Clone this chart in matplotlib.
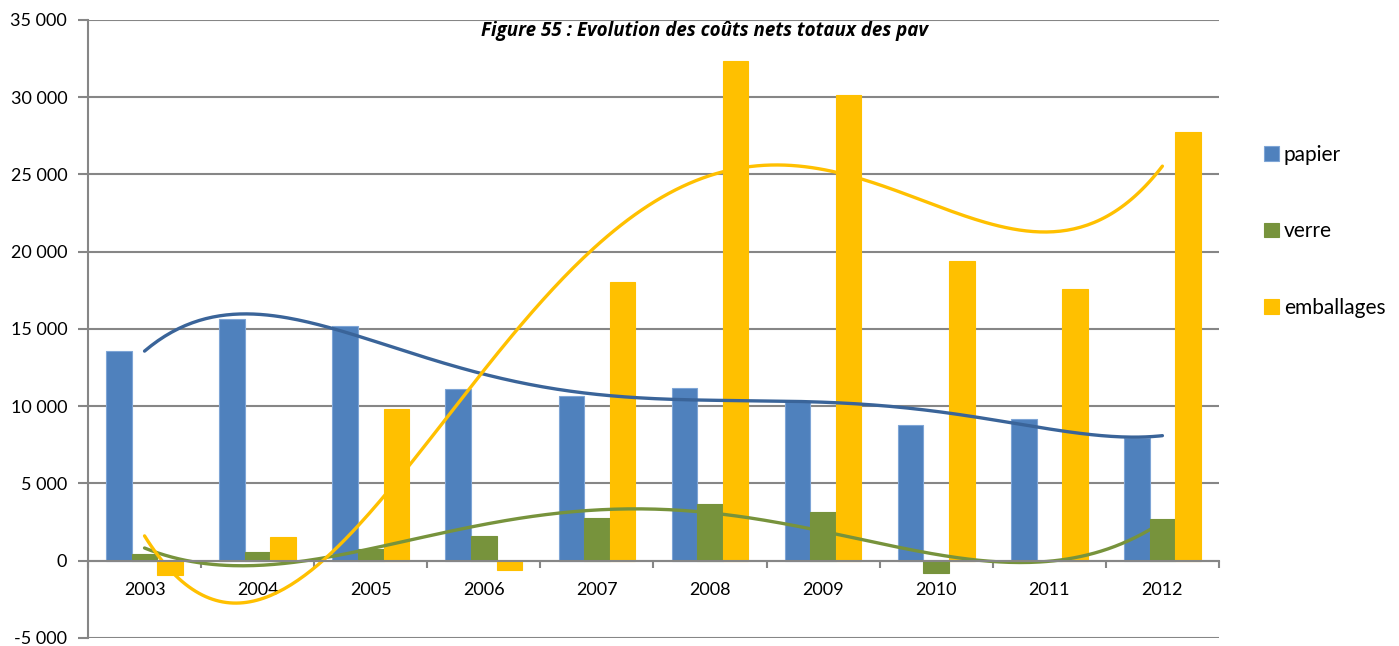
import matplotlib
matplotlib.use("Agg")
import matplotlib.pyplot as plt
import numpy as np
from matplotlib.ticker import FuncFormatter, FixedLocator

years = ['2003', '2004', '2005', '2006', '2007', '2008', '2009', '2010', '2011', '2012']
papier = [13600, 15650, 15170, 11120, 10670, 11190, 10260, 8810, 9160, 7950]
verre = [450, 580, 730, 1620, 2740, 3690, 3170, -820, 0, 2670]
emballages = [-930, 1530, 9850, -630, 18030, 32340, 30140, 19370, 17580, 27750]

title = 'Figure 55 : Evolution des coûts nets totaux des pav'

plt.rcParams['font.family'] = ['Lato', 'DejaVu Sans']

grey = '#868686'
# name, values, bar colour, bar edge, trend colour, trend order
series = [
    ('papier', papier, '#4F81BD', '#7EA5D6', '#3A6499', 5),
    ('verre', verre, '#77933C', '#77933C', '#77933C', 4),
    ('emballages', emballages, '#FFC000', '#FFC000', '#FFC000', 4),
]

fig = plt.figure(figsize=(13.99, 6.46), dpi=100)
ax = fig.add_axes([0.0629, 0.0124, 0.8084, 0.9567])

x = np.arange(1, len(years) + 1)
bw = 0.226
handles = []
for i, (name, vals, col, ecol, tcol, order) in enumerate(series):
    b = ax.bar(x + (i - 1) * bw, vals, width=bw, color=col, edgecolor=ecol,
               linewidth=0.8, label=name, zorder=3)
    handles.append(b)

# polynomial trendlines (like the spreadsheet ones)
xs = np.linspace(1, len(years), 300)
for name, vals, col, ecol, tcol, order in series:
    coef = np.polyfit(x, vals, order)
    ax.plot(xs, np.polyval(coef, xs), color=tcol, lw=2.4, zorder=4,
            solid_capstyle='round')

ax.set_xlim(0.5, len(years) + 0.5)
ax.set_ylim(-5000, 35000)
ax.set_yticks(np.arange(-5000, 35001, 5000))
ax.yaxis.set_major_formatter(FuncFormatter(lambda v, p: f'{int(v):,}'.replace(',', ' ')))
ax.yaxis.grid(True, color=grey, lw=1.5, zorder=0)

ax.set_xticks(x)
ax.set_xticklabels(years)
ax.xaxis.set_minor_locator(FixedLocator(np.arange(0.5, len(years) + 1, 1)))
ax.tick_params(axis='x', which='major', length=0, pad=15, labelsize=13)
ax.tick_params(axis='x', which='minor', length=5, width=1.5, color=grey, direction='out')
ax.tick_params(axis='y', length=7, width=1.5, color=grey, pad=8, labelsize=13)

ax.spines['bottom'].set_position(('data', 0))
ax.spines['bottom'].set_color(grey)
ax.spines['bottom'].set_linewidth(1.5)
ax.spines['bottom'].set_zorder(5)
ax.spines['left'].set_color(grey)
ax.spines['left'].set_linewidth(1.5)
ax.spines['top'].set_visible(False)
ax.spines['right'].set_visible(False)

ax.text(0.545, 0.982, title, transform=ax.transAxes, ha='center', va='center',
        fontsize=13.5, fontweight='bold', fontstyle='italic', zorder=6,
        family=['Open Sans', 'DejaVu Sans'])

fig.legend(handles=handles, loc='center left', bbox_to_anchor=(0.9035, 0.642),
           bbox_transform=fig.transFigure, frameon=False, fontsize=15,
           handlelength=0.7, handleheight=0.7, handletextpad=0.25,
           labelspacing=2.7, borderpad=0, borderaxespad=0)

fig.savefig('out.png', dpi=100)
